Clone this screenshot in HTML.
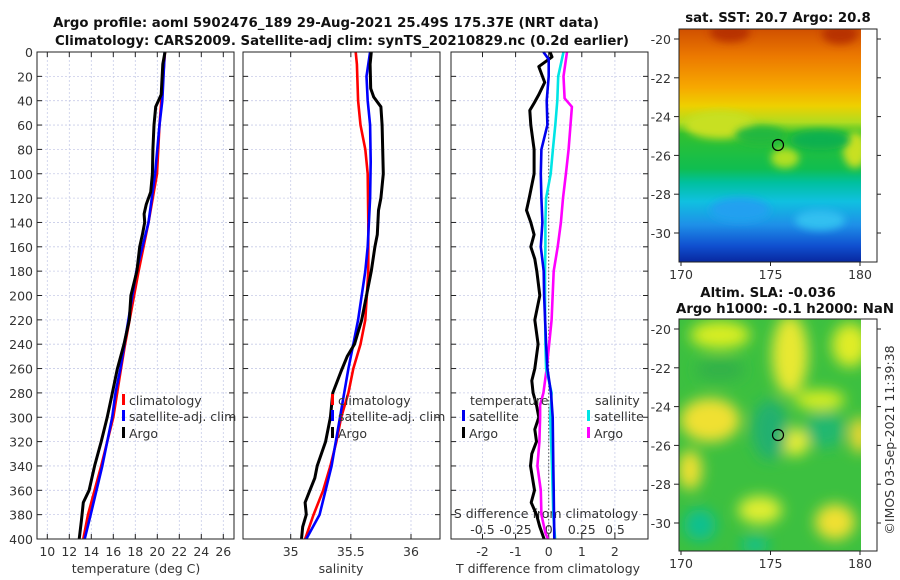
<!DOCTYPE html>
<html><head><meta charset="utf-8">
<style>
body{margin:0;background:#fff;}
svg{display:block;font-family:"DejaVu Sans","Liberation Sans",sans-serif;}
.t{font-size:12.5px;fill:#333;}
.b{font-weight:bold;font-size:13.3px;fill:#111;}
</style></head><body>
<svg id="c" width="900" height="580" viewBox="0 0 900 580">
<defs>
<linearGradient id="sstg" x1="0" y1="0" x2="0" y2="1">
<stop offset="0" stop-color="#d05000"/><stop offset="0.12" stop-color="#ec7a00"/>
<stop offset="0.25" stop-color="#f7a800"/><stop offset="0.33" stop-color="#eed000"/>
<stop offset="0.4" stop-color="#b0dc20"/><stop offset="0.45" stop-color="#30c030"/>
<stop offset="0.6" stop-color="#10be50"/><stop offset="0.66" stop-color="#00c0a0"/>
<stop offset="0.74" stop-color="#10c0e0"/><stop offset="0.84" stop-color="#1e90e8"/>
<stop offset="0.93" stop-color="#1050d0"/><stop offset="1" stop-color="#0828a0"/>
</linearGradient>
<filter id="bl" x="-50%" y="-50%" width="200%" height="200%"><feGaussianBlur stdDeviation="7"/></filter>
<filter id="bl2" x="-50%" y="-50%" width="200%" height="200%"><feGaussianBlur stdDeviation="4"/></filter>
<clipPath id="m1c"><rect x="679" y="29" width="182" height="233"/></clipPath>
<clipPath id="m2c"><rect x="679" y="319" width="182" height="232"/></clipPath>
</defs>
<text class="b" x="326" y="27" text-anchor="middle">Argo profile: aoml 5902476_189 29-Aug-2021 25.49S 175.37E (NRT data)</text>
<text class="b" x="342" y="45" text-anchor="middle">Climatology: CARS2009. Satellite-adj clim: synTS_20210829.nc (0.2d earlier)</text>
<g id="g"></g>
<g>
<g clip-path="url(#m1c)">
<rect x="679" y="29" width="182" height="233" fill="url(#sstg)"/>
<ellipse cx="730" cy="32" rx="20" ry="10" fill="#b83000" filter="url(#bl2)"/>
<ellipse cx="840" cy="34" rx="18" ry="10" fill="#b83000" filter="url(#bl2)"/>
<ellipse cx="720" cy="125" rx="35" ry="14" fill="#c8e020" filter="url(#bl2)"/>
<ellipse cx="855" cy="150" rx="12" ry="18" fill="#c8e020" filter="url(#bl2)"/>
<ellipse cx="785" cy="158" rx="14" ry="10" fill="#b0e020" filter="url(#bl2)"/>
<ellipse cx="760" cy="135" rx="25" ry="9" fill="#20b840" filter="url(#bl2)"/>
<ellipse cx="820" cy="140" rx="30" ry="10" fill="#10b050" filter="url(#bl2)"/>
<ellipse cx="740" cy="210" rx="30" ry="12" fill="#20a0f0" filter="url(#bl2)"/>
<ellipse cx="820" cy="220" rx="25" ry="10" fill="#30c0f0" filter="url(#bl2)"/>
</g>
<rect x="679" y="29" width="198" height="233" fill="none" stroke="#222" stroke-width="1"/>
<circle cx="778" cy="145" r="5.5" fill="none" stroke="#000" stroke-width="1.2"/>
</g>
<g>
<g clip-path="url(#m2c)">
<rect x="679" y="319" width="182" height="232" fill="#3cc040"/>
<g filter="url(#bl)">
<ellipse cx="720" cy="335" rx="30" ry="14" fill="#d8ee20"/>
<ellipse cx="790" cy="355" rx="18" ry="40" fill="#e8e830"/>
<ellipse cx="850" cy="345" rx="18" ry="22" fill="#e0ec28"/>
<ellipse cx="710" cy="420" rx="30" ry="22" fill="#f0e030"/>
<ellipse cx="690" cy="470" rx="12" ry="20" fill="#f0e030"/>
<ellipse cx="795" cy="442" rx="14" ry="14" fill="#e8ee30"/>
<ellipse cx="860" cy="435" rx="10" ry="18" fill="#f0d830"/>
<ellipse cx="760" cy="510" rx="22" ry="14" fill="#e0ee30"/>
<ellipse cx="835" cy="522" rx="20" ry="18" fill="#f0e030"/>
<ellipse cx="820" cy="400" rx="25" ry="10" fill="#d8ee20"/>
<ellipse cx="770" cy="430" rx="18" ry="30" fill="#20b070"/>
<ellipse cx="825" cy="430" rx="20" ry="18" fill="#20b870"/>
<ellipse cx="700" cy="525" rx="16" ry="16" fill="#10c090"/>
<ellipse cx="755" cy="545" rx="14" ry="8" fill="#10c090"/>
<ellipse cx="720" cy="370" rx="25" ry="10" fill="#30b048"/>
</g>
</g>
<rect x="679" y="319" width="198" height="232" fill="none" stroke="#222" stroke-width="1"/>
<circle cx="778" cy="435" r="5.5" fill="none" stroke="#000" stroke-width="1.2"/>
</g>
<text class="b" x="778" y="22" text-anchor="middle">sat. SST: 20.7 Argo: 20.8</text>
<text class="b" x="768" y="297" text-anchor="middle">Altim. SLA: -0.036</text>
<text class="b" x="785" y="313" text-anchor="middle">Argo h1000: -0.1 h2000: NaN</text>
<text class="t" transform="translate(894,440) rotate(-90)" text-anchor="middle">©IMOS 03-Sep-2021 11:39:38</text>
</svg>
<script>
var depthTicks=[0,20,40,60,80,100,120,140,160,180,200,220,240,260,280,300,320,340,360,380,400];
var tTicks=[10,12,14,16,18,20,22,24,26];
var sTicks=[35,35.5,36];
var sTickLabels=["35","35.5","36"];
var dTicks=[-2,-1,0,1,2];
var sdTicks=[-0.5,-0.25,0,0.25,0.5];
var sdTickLabels=["-0.5","-0.25","0","0.25","0.5"];
var lonTicks=[170,175,180];
var latTicks=[-20,-22,-24,-26,-28,-30];

var tClimD=[0,60,100,140,180,240,260,300,340,380,400];
var tClimV=[20.7,20.2,19.97,19.2,18.3,17.07,16.7,16.0,14.9,13.7,13.27];
var tSatD=[0,40,60,100,140,180,260,280,300,340,380,400];
var tSatV=[20.67,20.45,20.2,19.8,19.2,18.1,16.65,16.2,15.9,15.0,13.95,13.4];
var tArgoD=[0,10,35,45,60,80,100,115,125,133,140,150,160,180,200,220,240,260,270,285,300,320,340,360,370,385,400];
var tArgoV=[20.7,20.5,20.35,19.85,19.7,19.6,19.55,19.4,19.0,18.8,18.85,18.65,18.4,18.15,17.6,17.45,16.97,16.37,16.15,15.8,15.45,14.9,14.3,13.8,13.27,13.1,12.9];

var sClimD=[0,10,40,60,70,80,100,140,180,220,240,260,280,300,320,340,360,380,400];
var sClimV=[35.54,35.55,35.56,35.58,35.6,35.62,35.64,35.645,35.645,35.62,35.58,35.52,35.48,35.42,35.38,35.33,35.27,35.19,35.12];
var sSatD=[0,20,40,60,90,120,160,180,220,240,260,300,340,380,400];
var sSatV=[35.66,35.63,35.64,35.66,35.665,35.66,35.64,35.62,35.56,35.52,35.48,35.41,35.34,35.24,35.13];
var sArgoD=[0,10,30,37,45,60,100,120,130,150,160,180,200,220,240,250,262,280,300,320,340,350,360,370,380,390,400];
var sArgoV=[35.67,35.66,35.665,35.69,35.75,35.76,35.77,35.75,35.73,35.72,35.70,35.67,35.63,35.59,35.53,35.47,35.42,35.35,35.33,35.29,35.22,35.20,35.16,35.12,35.13,35.10,35.09];

var dtSatD=[0,6,20,40,60,80,100,120,140,160,180,200,220,240,260,280,300,340,360,400];
var dtSatV=[-0.16,0,0,-0.06,-0.04,-0.22,-0.24,-0.22,-0.19,-0.24,-0.15,-0.14,-0.11,-0.08,-0.04,0.07,0.12,0.14,0.15,0.17];
var dtArgoD=[0,4,12,25,35,42,48,60,80,100,120,130,140,150,160,170,180,200,220,240,260,270,280,290,300,310,320,330,340,360,370,380,390,400];
var dtArgoV=[0.04,0.1,-0.3,-0.12,-0.3,-0.44,-0.57,-0.54,-0.44,-0.44,-0.59,-0.67,-0.54,-0.44,-0.54,-0.42,-0.36,-0.27,-0.42,-0.32,-0.42,-0.51,-0.47,-0.37,-0.3,-0.42,-0.37,-0.51,-0.55,-0.43,-0.53,-0.37,-0.27,-0.14];
var dsSatD=[0,20,40,60,80,100,120,140,160,180,200,240,260,280,300,340,380,400];
var dsSatV=[0.112,0.072,0.065,0.05,0.032,0.015,-0.02,-0.025,-0.025,-0.028,-0.028,-0.025,-0.02,0.022,0.012,0.025,0.035,0.048];
var dsArgoD=[0,20,38,45,60,80,100,120,140,160,180,220,260,280,290,300,320,340,360,380,395,400];
var dsArgoV=[0.138,0.112,0.12,0.175,0.165,0.15,0.13,0.108,0.092,0.068,0.038,0.022,-0.015,-0.04,-0.065,-0.065,-0.07,-0.085,-0.06,-0.055,-0.025,-0.005];

var Y0=52,Y1=539;
function yD(d){return Y0+(Y1-Y0)*d/400;}
function xT(t){return 47.3+(t-10)*11.0;}
function xS(s){return 290.7+(s-35)*120.3;}
function xDT(t){return 548.7+t*33.1;}
function xDS(s){return 548.7+s*4*33.1;}
var P=[{x0:37,x1:234},{x0:243,x1:440},{x0:451,x1:648}];
var NS='http://www.w3.org/2000/svg';
var G=document.getElementById('g');
function el(tag,a,par){var e=document.createElementNS(NS,tag);for(var k in a)e.setAttribute(k,a[k]);(par||G).appendChild(e);return e;}
function txt(x,y,s,anchor,cls){var e=el('text',{x:x,y:y,'text-anchor':anchor||'middle','class':cls||'t'});e.textContent=s;return e;}

var names=['temperature-panel','salinity-panel','difference-panel'];
P.forEach(function(p,i){
  var g=el('g',{});
  
  
  depthTicks.forEach(function(d){
    var y=yD(d);
    el('line',{x1:p.x0,x2:p.x1,y1:y,y2:y,stroke:'#c8cce8','stroke-width':0.8,'stroke-dasharray':'2,2'},g);
    el('line',{x1:p.x0,x2:p.x0+5,y1:y,y2:y,stroke:'#222'},g);
    el('line',{x1:p.x1-5,x2:p.x1,y1:y,y2:y,stroke:'#222'},g);
  });
  var xs=i==0?tTicks.map(xT):i==1?sTicks.map(xS):dTicks.map(xDT);
  xs.forEach(function(x){
    el('line',{x1:x,x2:x,y1:Y0,y2:Y1,stroke:'#c8cce8','stroke-width':0.8,'stroke-dasharray':'2,2'},g);
    el('line',{x1:x,x2:x,y1:Y1,y2:Y1-5,stroke:'#222'},g);
    el('line',{x1:x,x2:x,y1:Y0,y2:Y0+5,stroke:'#222'},g);
  });
});
depthTicks.forEach(function(d){
  var t=txt(33,yD(d)+5,String(d),'end');
  
  
});
tTicks.forEach(function(v){var t=txt(xT(v),556,String(v));
  
  });
sTicks.forEach(function(v,i){var t=txt(xS(v),556,sTickLabels[i]);
  
  });
dTicks.forEach(function(v){var t=txt(xDT(v),556,String(v));
  
  });
sdTicks.forEach(function(v,i){var t=txt(xDS(v),534,sdTickLabels[i]);
  
  });
var a1=txt(136,573,'temperature (deg C)');
var a2=txt(341,573,'salinity');
var a3=txt(548,573,'T difference from climatology');
var a4=txt(546,518,'S difference from climatology');

el('line',{x1:xDT(0),x2:xDT(0),y1:yD(50),y2:Y1,stroke:'#555','stroke-width':1,'stroke-dasharray':'1.5,2'});

function line(D,V,fx,color,name,w){
  var d='';for(var i=0;i<D.length;i++){d+=(i?'L':'M')+fx(V[i]).toFixed(1)+','+yD(D[i]).toFixed(1);}
  var p=el('path',{d:d,fill:'none',stroke:color,'stroke-width':w||2.6,'stroke-linejoin':'round'});
  
  
}
line(tClimD,tClimV,xT,'#ff0000','temp-climatology-line');
line(tSatD,tSatV,xT,'#0000ff','temp-satellite-line');
line(tArgoD,tArgoV,xT,'#000','temp-argo-line',3);
line(sClimD,sClimV,xS,'#ff0000','sal-climatology-line');
line(sSatD,sSatV,xS,'#0000ff','sal-satellite-line');
line(sArgoD,sArgoV,xS,'#000','sal-argo-line',3);
line(dtArgoD,dtArgoV,xDT,'#000','t-diff-argo-line',3);
line(dsArgoD,dsArgoV,xDS,'#ff00ff','s-diff-argo-line');
line(dsSatD,dsSatV,xDS,'#00e5e5','s-diff-satellite-line');
line(dtSatD,dtSatV,xDT,'#0000ee','t-diff-satellite-line');

P.forEach(function(p){el('rect',{x:p.x0,y:Y0,width:p.x1-p.x0,height:Y1-Y0,fill:'none',stroke:'#222','stroke-width':1});});

function leg(x,y,color,label,name){
  el('rect',{x:x,y:y-7,width:3,height:11,fill:color});
  var t=txt(x+7,y+4,label,'start');
  
  
}
leg(122,401,'#ff0000','climatology','legend-climatology');
leg(122,417,'#0000ff','satellite-adj. clim','legend-satellite-adj');
leg(122,434,'#000','Argo','legend-argo');
leg(331,401,'#ff0000','climatology','legend-climatology-sal');
leg(331,417,'#0000ff','satellite-adj. clim','legend-satellite-adj-sal');
leg(331,434,'#000','Argo','legend-argo-sal');
var lt=txt(470,405,'temperature','start');
leg(462,417,'#0000ee','satellite','legend-t-satellite');
leg(462,434,'#000','Argo','legend-t-argo');
var ls=txt(595,405,'salinity','start');
leg(587,417,'#00e5e5','satellite','legend-s-satellite');
leg(587,434,'#ff00ff','Argo','legend-s-argo');

function lonX(l){return 681+(l-170)*17.9;}
[[39,262],[329,551]].forEach(function(m,mi){
  var top=m[0],bot=m[1];
  lonTicks.forEach(function(l){var t=txt(lonX(l),bot+17,String(l));
    
    
    el('line',{x1:lonX(l),x2:lonX(l),y1:bot,y2:bot+4,stroke:'#222'});});
  latTicks.forEach(function(la){var y=top+(-20-la)*19.4;
    var t=txt(671,y+5,String(la),'end');
    
    
    el('line',{x1:674,x2:679,y1:y,y2:y,stroke:'#222'});
    el('line',{x1:877,x2:881,y1:y,y2:y,stroke:'#222'});});
});
</script>
</body></html>
